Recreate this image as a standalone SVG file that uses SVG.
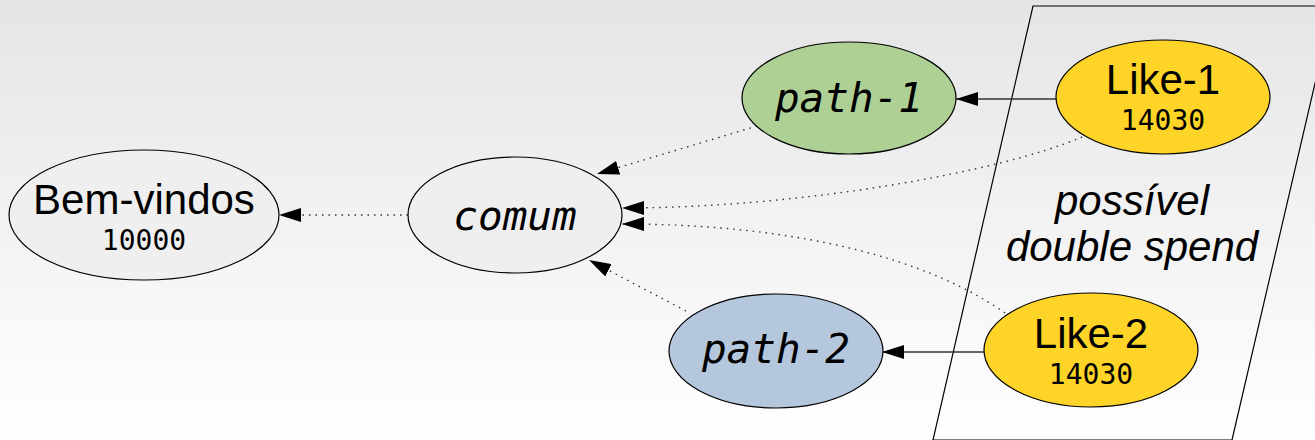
<svg xmlns="http://www.w3.org/2000/svg" width="1315" height="440" viewBox="0 0 1315 440">
<defs>
<linearGradient id="bg" x1="0" y1="0" x2="0" y2="1">
<stop offset="0" stop-color="#e5e5e5"/>
<stop offset="1" stop-color="#ffffff"/>
</linearGradient>
<marker id="ah" markerUnits="userSpaceOnUse" markerWidth="22" markerHeight="14" refX="22" refY="7" orient="auto">
<path d="M0,0 L22,7 L0,14 z" fill="#000"/>
</marker>
<style>
.node ellipse{stroke:#000;stroke-width:1.2}
.lbl{font-family:"Liberation Sans",Arial,sans-serif;font-size:42px;text-anchor:middle;fill:#000}
.num{font-family:"DejaVu Sans Mono",monospace;font-size:28px;text-anchor:middle;fill:#000}
.mono{font-family:"DejaVu Sans Mono",monospace;font-size:41px;font-style:italic;text-anchor:middle;fill:#000}
.note{font-family:"Liberation Sans",Arial,sans-serif;font-size:42px;font-style:italic;text-anchor:middle;fill:#000}
.dot{fill:none;stroke:#333;stroke-width:1.4;stroke-dasharray:1.5,5;marker-end:url(#ah)}
.solid{fill:none;stroke:#333;stroke-width:1.4;marker-end:url(#ah)}
</style>
</defs>
<rect width="1315" height="440" fill="url(#bg)"/>
<g id="cluster">
<polygon points="1033,6 1333,6 1232,440 933,440" fill="none" stroke="#000" stroke-width="1.2"/>
<text class="note" x="1132" y="215">possível</text>
<text class="note" x="1132" y="261">double spend</text>
</g>
<g id="edges">
<path class="dot" d="M408,215 L279,215"/>
<path class="dot" d="M757,126 L597,174"/>
<path class="dot" d="M1082,137 C1000,172 800,208 622,208"/>
<path class="dot" d="M1005,313 C930,260 800,224 622,224"/>
<path class="dot" d="M686,311 L589,260"/>
<path class="solid" d="M1056,99 L956,99"/>
<path class="solid" d="M985,352 L882,352"/>
</g>
<g id="bem-vindos" class="node">
<ellipse cx="144" cy="215" rx="135" ry="65" fill="#efefef"/>
<text class="lbl" x="144" y="214">Bem-vindos</text>
<text class="num" x="144" y="250">10000</text>
</g>
<g id="comum" class="node">
<ellipse cx="515" cy="215" rx="107" ry="58" fill="#efefef"/>
<text class="mono" x="515" y="230">comum</text>
</g>
<g id="path-1" class="node">
<ellipse cx="849" cy="98" rx="107" ry="56" fill="#afd095"/>
<text class="mono" x="849" y="112">path-1</text>
</g>
<g id="path-2" class="node">
<ellipse cx="776" cy="351" rx="107" ry="57" fill="#b4c7dc"/>
<text class="mono" x="776" y="363">path-2</text>
</g>
<g id="like-1" class="node">
<ellipse cx="1163" cy="97" rx="107" ry="57" fill="#ffd428"/>
<text class="lbl" x="1163" y="94">Like-1</text>
<text class="num" x="1163" y="130">14030</text>
</g>
<g id="like-2" class="node">
<ellipse cx="1091" cy="350" rx="107" ry="57" fill="#ffd428"/>
<text class="lbl" x="1091" y="348">Like-2</text>
<text class="num" x="1091" y="384">14030</text>
</g>
</svg>
